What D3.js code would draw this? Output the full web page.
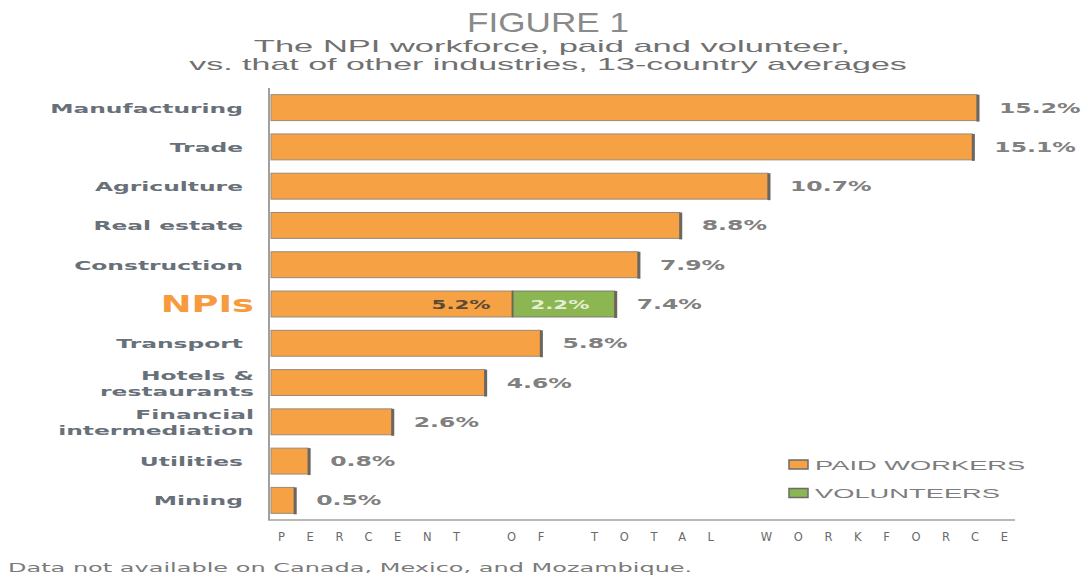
<!DOCTYPE html>
<html>
<head>
<meta charset="utf-8">
<script src="https://cdn.jsdelivr.net/npm/d3@7"></script>
<style>
  body { margin: 0; background: #fff; }
  svg text { font-family: "DejaVu Sans", Verdana, sans-serif; }
</style>
</head>
<body>
<div id="chart"></div>
<script>
(function () {

const categories = ["Manufacturing", "Trade", "Agriculture", "Real estate", "Construction", "NPIs",
  "Transport", "Hotels & restaurants", "Financial intermediation", "Utilities", "Mining"];
const paid = [15.2, 15.1, 10.7, 8.8, 7.9, 5.2, 5.8, 4.6, 2.6, 0.8, 0.5];
const volunteers = [0, 0, 0, 0, 0, 2.2, 0, 0, 0, 0, 0];
const labelLines = {
  "Hotels & restaurants": ["Hotels &", "restaurants"],
  "Financial intermediation": ["Financial", "intermediation"]
};

const width = 1086, height = 575,
  margin = ({ top: 88, right: 71, bottom: 57, left: 271 });

const svg = d3.select("#chart").append("svg")
  .attr("width", width).attr("height", height)
  .attr("viewBox", [0, 0, width, height]);

// the source picture is stretched sideways, so text is widened with scaleX
const place = (sel, x, y, sx) => sel.attr("transform", `translate(${x},${y}) scale(${sx},1)`);

const x = d3.scaleLinear()
  .domain([0, 15.2])
  .range([margin.left, 977]);

const y = d3.scaleBand()
  .domain(categories)
  .range([margin.top, height - margin.bottom + 2])
  .paddingInner(0.34)
  .paddingOuter(0.17);

const orange = "#F6A244", green = "#8CB651";
const sans = "'Liberation Sans', Arial, sans-serif";

// titles
svg.append("text").attr("text-anchor", "middle").style("font-family", sans)
  .attr("font-size", 27).attr("fill", "#8a8a8a").text("FIGURE 1")
  .call(place, 548, 32, 1.3);
svg.append("text").attr("text-anchor", "middle").style("font-family", sans)
  .attr("font-size", 17).attr("fill", "#707070").text("The NPI workforce, paid and volunteer,")
  .call(place, 552, 52, 2.03);
svg.append("text").attr("text-anchor", "middle").style("font-family", sans)
  .attr("font-size", 17).attr("fill", "#707070").text("vs. that of other industries, 13-country averages")
  .call(place, 548, 70, 2.0);

// axis lines
svg.append("line").attr("x1", margin.left - 2).attr("x2", margin.left - 2)
  .attr("y1", margin.top).attr("y2", 520).attr("stroke", "#a0a0a0").attr("stroke-width", 2);
svg.append("line").attr("x1", margin.left - 3).attr("x2", 1015)
  .attr("y1", 520).attr("y2", 520).attr("stroke", "#a0a0a0").attr("stroke-width", 1.5);

const data = categories.map((c, i) => ({ c, paid: paid[i], vol: volunteers[i] }));

// bars
const rows = svg.append("g").selectAll("g").data(data).join("g");

rows.append("rect")
  .attr("x", x(0)).attr("y", d => y(d.c))
  .attr("width", d => x(d.paid) - x(0)).attr("height", y.bandwidth())
  .attr("fill", orange).attr("stroke", "#9a8a78").attr("stroke-width", 1);

rows.filter(d => d.vol > 0).append("rect")
  .attr("x", d => x(d.paid)).attr("y", d => y(d.c))
  .attr("width", d => x(d.paid + d.vol) - x(d.paid)).attr("height", y.bandwidth())
  .attr("fill", green).attr("stroke", "#7a7a6a").attr("stroke-width", 1);

rows.filter(d => d.vol > 0).append("line")
  .attr("x1", d => x(d.paid)).attr("x2", d => x(d.paid))
  .attr("y1", d => y(d.c)).attr("y2", d => y(d.c) + y.bandwidth())
  .attr("stroke", "#6a6a5a").attr("stroke-width", 2);

// dark right edge
rows.append("line")
  .attr("x1", d => x(d.paid + d.vol) + 1).attr("x2", d => x(d.paid + d.vol) + 1)
  .attr("y1", d => y(d.c)).attr("y2", d => y(d.c) + y.bandwidth() + 1)
  .attr("stroke", "#6b6660").attr("stroke-width", 3);

// value labels
rows.append("text")
  .attr("font-size", 14).attr("font-weight", "bold")
  .attr("fill", "#808080")
  .text(d => (d.paid + d.vol).toFixed(1) + "%")
  .each(function (d) {
    d3.select(this).call(place, x(d.paid + d.vol) + 22, y(d.c) + y.bandwidth() / 2 + 5, 1.68);
  });

const npi = data.filter(d => d.vol > 0);
svg.append("g").selectAll("text").data(npi).join("text")
  .attr("text-anchor", "end").attr("font-size", 12.5).attr("font-weight", "bold")
  .attr("fill", "#5a4a35").text(d => d.paid.toFixed(1) + "%")
  .each(function (d) {
    d3.select(this).call(place, x(d.paid) - 22, y(d.c) + y.bandwidth() / 2 + 5, 1.7);
  });
svg.append("g").selectAll("text").data(npi).join("text")
  .attr("font-size", 12.5).attr("font-weight", "bold")
  .attr("fill", "#e4eed6").text(d => d.vol.toFixed(1) + "%")
  .each(function (d) {
    d3.select(this).call(place, x(d.paid) + 18, y(d.c) + y.bandwidth() / 2 + 5, 1.7);
  });

// category labels
svg.append("g").selectAll("text").data(data).join("text")
  .attr("text-anchor", "end")
  .attr("font-size", d => d.c === "NPIs" ? 23 : 13)
  .attr("font-weight", "bold")
  .attr("fill", d => d.c === "NPIs" ? "#F79B3E" : "#687079")
  .each(function (d) {
    const t = d3.select(this);
    const mid = y(d.c) + y.bandwidth() / 2;
    const lines = labelLines[d.c];
    if (d.c === "NPIs") {
      t.text(d.c).call(place, 254, mid + 8, 1.6);
    } else if (lines) {
      lines.forEach((l, i) => t.append("tspan").attr("x", 0).attr("dy", i ? 16 : 0).text(l));
      t.call(place, 254, mid - 3, 1.8);
    } else {
      t.text(d.c).call(place, 243, mid + 5, 1.8);
    }
  });

// legend
const legend = [["PAID WORKERS", orange], ["VOLUNTEERS", green]];
const lg = svg.append("g").selectAll("g").data(legend).join("g")
  .attr("transform", (d, i) => `translate(789,${458 + i * 28.5})`);
lg.append("rect").attr("width", 19).attr("height", 9).attr("y", 2)
  .attr("fill", d => d[1]).attr("stroke", "#6b6b6b").attr("stroke-width", 1.5);
lg.append("text").attr("font-size", 13).style("font-family", sans)
  .attr("fill", "#7d7d7d").text(d => d[0])
  .call(place, 26, 11.5, 2.1);

// axis title
svg.append("text").attr("x", 278).attr("y", 541)
  .attr("font-size", 11.5).attr("letter-spacing", 21.6).attr("fill", "#6a6a6a")
  .text("PERCENT OF TOTAL WORKFORCE");

// footnote
svg.append("text").attr("font-size", 12.5)
  .attr("fill", "#7a7a7a")
  .text("Data not available on Canada, Mexico, and Mozambique.")
  .call(place, 8, 572, 1.92);

})();
</script>
</body>
</html>
